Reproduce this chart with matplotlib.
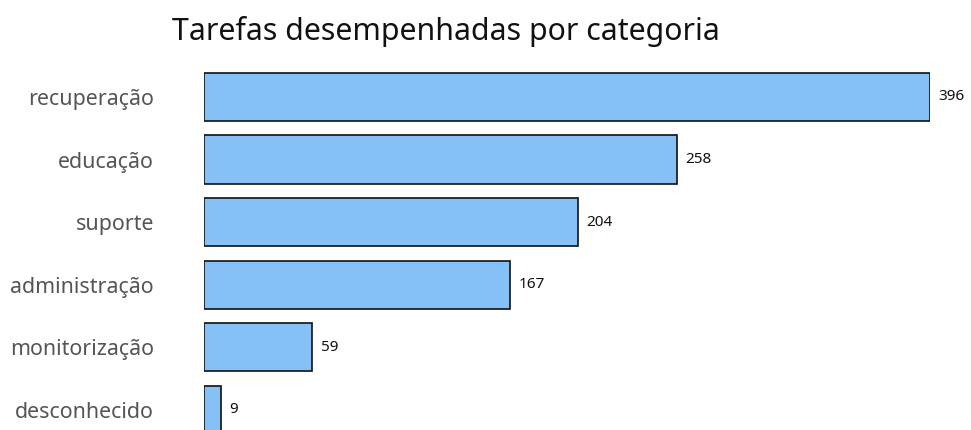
import matplotlib.pyplot as plt

plt.rcParams['font.family'] = ['Noto Sans', 'DejaVu Sans']

categorias = ['recuperação', 'educação', 'suporte', 'administração',
              'monitorização', 'desconhecido']
tarefas = [396, 258, 204, 167, 59, 9]

fig = plt.figure(figsize=(9.71, 4.30), dpi=100)
ax = fig.add_axes([204 / 971, 0.0, (930 - 204) / 971, 1 - 65.7 / 430])

pos = list(range(len(categorias)))
ax.barh(pos, tarefas, height=0.77, color='#85c1f7', edgecolor='#111111',
        linewidth=1.2)

for y, v in zip(pos, tarefas):
    ax.annotate(str(v), (v, y), xytext=(6, 0), textcoords='offset points',
                va='center', ha='left', fontsize=11, color='#111111',
                annotation_clip=False)

ax.set_xlim(0, 396)
ax.set_ylim(5.32, -0.5)
ax.set_yticks(pos)
ax.set_yticklabels(categorias, fontsize=15.4, color='#555555')
ax.tick_params(axis='y', length=0, pad=36)
ax.set_xticks([])
for s in ax.spines.values():
    s.set_visible(False)

fig.text(172 / 971, 1 - 40 / 430, 'Tarefas desempenhadas por categoria',
         fontsize=21.8, color='#111111', ha='left', va='baseline')

plt.savefig('out.png', dpi=100)
